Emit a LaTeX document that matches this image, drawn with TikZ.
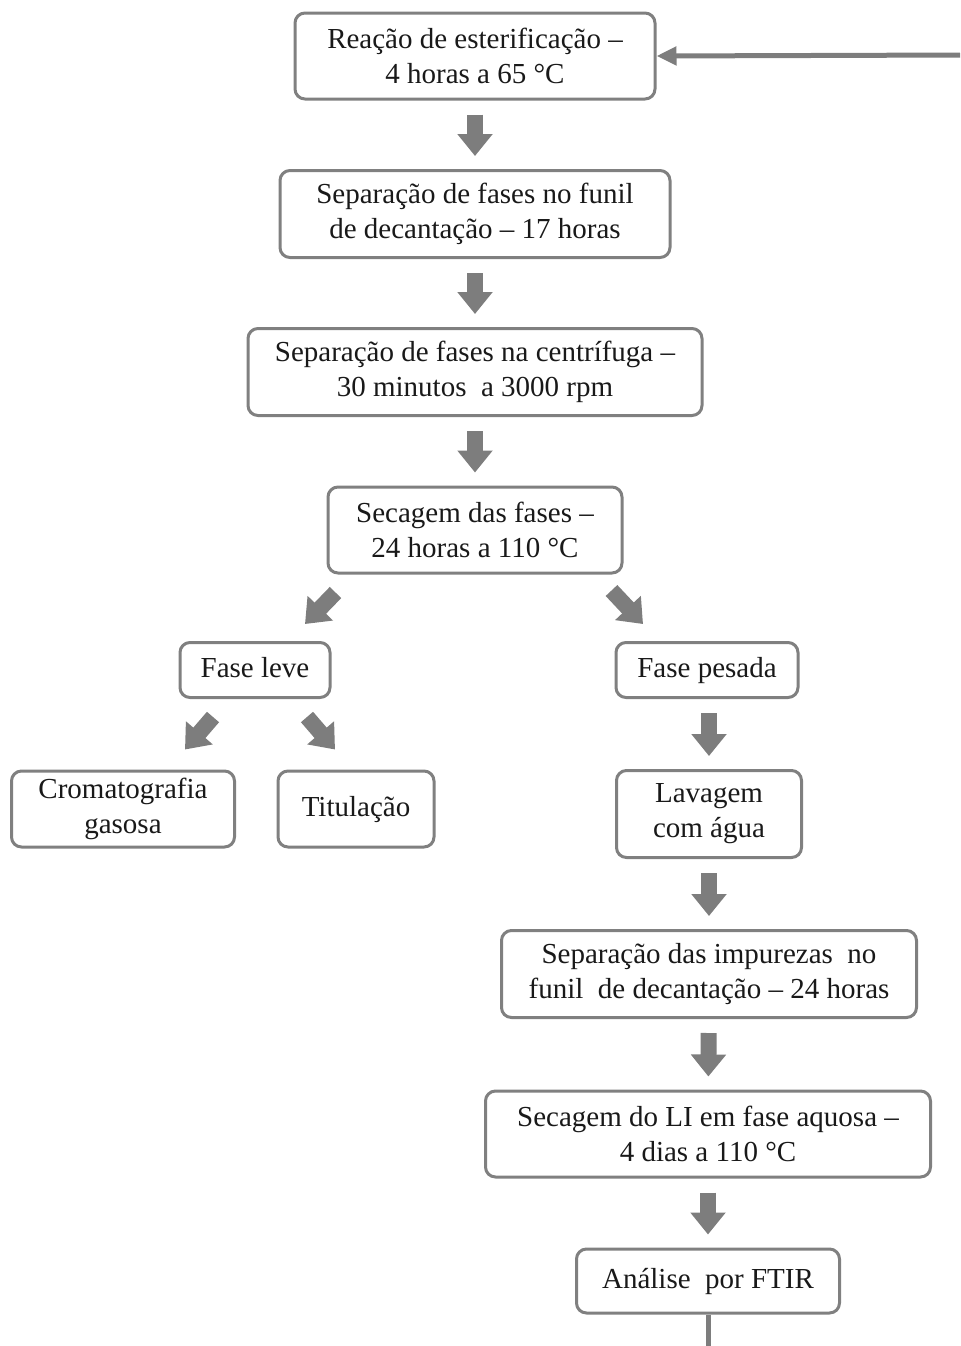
\documentclass[tikz,border=0pt]{standalone}
\usepackage{fontspec}
\setmainfont{Liberation Serif}
\usepackage{tikz}
\usetikzlibrary{arrows.meta,calc}
\definecolor{boxGray}{RGB}{128,128,128}
\definecolor{arrowGray}{RGB}{125,125,125}
\definecolor{inkDark}{RGB}{25,25,25}
\tikzset{
  stepbox/.style={
    rectangle, rounded corners=5pt, draw=boxGray, line width=1.5pt,
    fill=white, align=center, text=inkDark, inner sep=2pt,
    font=\fontsize{14.5}{17.5}\selectfont
  },
  onebox/.style={stepbox, text height=10pt, text depth=3pt},
  fatArrow/.style={-{Triangle[width=17pt,length=11pt]}, line width=8pt,
    color=arrowGray, shorten <=7pt, shorten >=6.5pt},
  fatDiag/.style={-{Triangle[width=17pt,length=11pt]}, line width=8pt,
    color=arrowGray},
  backArrow/.style={-{Triangle[width=9pt,length=10pt]}, line width=2.5pt,
    color=arrowGray}
}

\begin{document}
\begin{tikzpicture}[x=0.5pt, y=-0.5pt]
    \useasboundingbox (0,0) rectangle (960,1346);

    % main line
    \node[stepbox, minimum width=180pt, minimum height=43pt] (reacao) at (475,56)
          {Reação de esterificação --\\4 horas a 65 °C};
    \node[stepbox, minimum width=195pt, minimum height=43.5pt] (funil) at (475,214)
          {Separação de fases no funil\\de decantação -- 17 horas};
    \node[stepbox, minimum width=227pt, minimum height=43.5pt] (centri) at (475,372)
          {Separação de fases na centrífuga --\\30 minutos\ \ a 3000 rpm};
    \node[stepbox, minimum width=147pt, minimum height=43pt] (secagem) at (475,530)
          {Secagem das fases --\\24 horas a 110 °C};

    % fase leve
    \node[onebox, minimum width=75pt, minimum height=27.5pt] (leve) at (255,670) {Fase leve};
    \node[stepbox, minimum width=111.5pt, minimum height=38pt] (croma) at (123,809)
          {Cromatografia\\gasosa};
    \node[onebox, minimum width=78pt, minimum height=38pt] (titul) at (356,809) {Titulação};

    % fase pesada
    \node[onebox, minimum width=91pt, minimum height=27.5pt] (pesada) at (707,670) {Fase pesada};
    \node[stepbox, minimum width=92.5pt, minimum height=43.5pt] (lavagem) at (709,814)
          {Lavagem\\com água};
    \node[stepbox, minimum width=207.5pt, minimum height=43.5pt] (impur) at (709,974)
          {Separação das impurezas\ \ no\\funil\ \ de decantação -- 24 horas};
    \node[stepbox, minimum width=222.5pt, minimum height=43pt] (secLI) at (708,1134)
          {Secagem do LI em fase aquosa --\\4 dias a 110 °C};
    \node[onebox, minimum width=131.5pt, minimum height=32pt] (ftir) at (708,1281)
          {Análise\ \ por FTIR};

    \coordinate (retorno) at (960,55);
    \coordinate (saida) at (708,1346);

    % arrows
    \draw[fatArrow] (reacao) -- (funil);
    \draw[fatArrow] (funil) -- (centri);
    \draw[fatArrow] (centri) -- (secagem);
    \draw[fatDiag] ([shift={(9,18)}]secagem.south west) -- ([shift={(50,-17)}]leve.north);
    \draw[fatDiag] ([shift={(-12,16)}]secagem.south east) -- ([shift={(-64,-17)}]pesada.north);
    \draw[fatDiag] ([shift={(-42,18)}]leve.south) -- ([shift={(62,-20)}]croma.north);
    \draw[fatDiag] ([shift={(52,18)}]leve.south) -- ([shift={(-21,-20)}]titul.north);
    \draw[fatArrow] (pesada.south -| lavagem.north) -- (lavagem.north);
    \draw[fatArrow] (lavagem) -- (impur);
    \draw[fatArrow] (impur) -- (secLI);
    \draw[fatArrow] (secLI) -- (ftir);
    \draw[backArrow] (retorno) -- (reacao.east);
    \draw[line width=2.5pt, color=arrowGray] (ftir.south) -- (saida);
\end{tikzpicture}
\end{document}
